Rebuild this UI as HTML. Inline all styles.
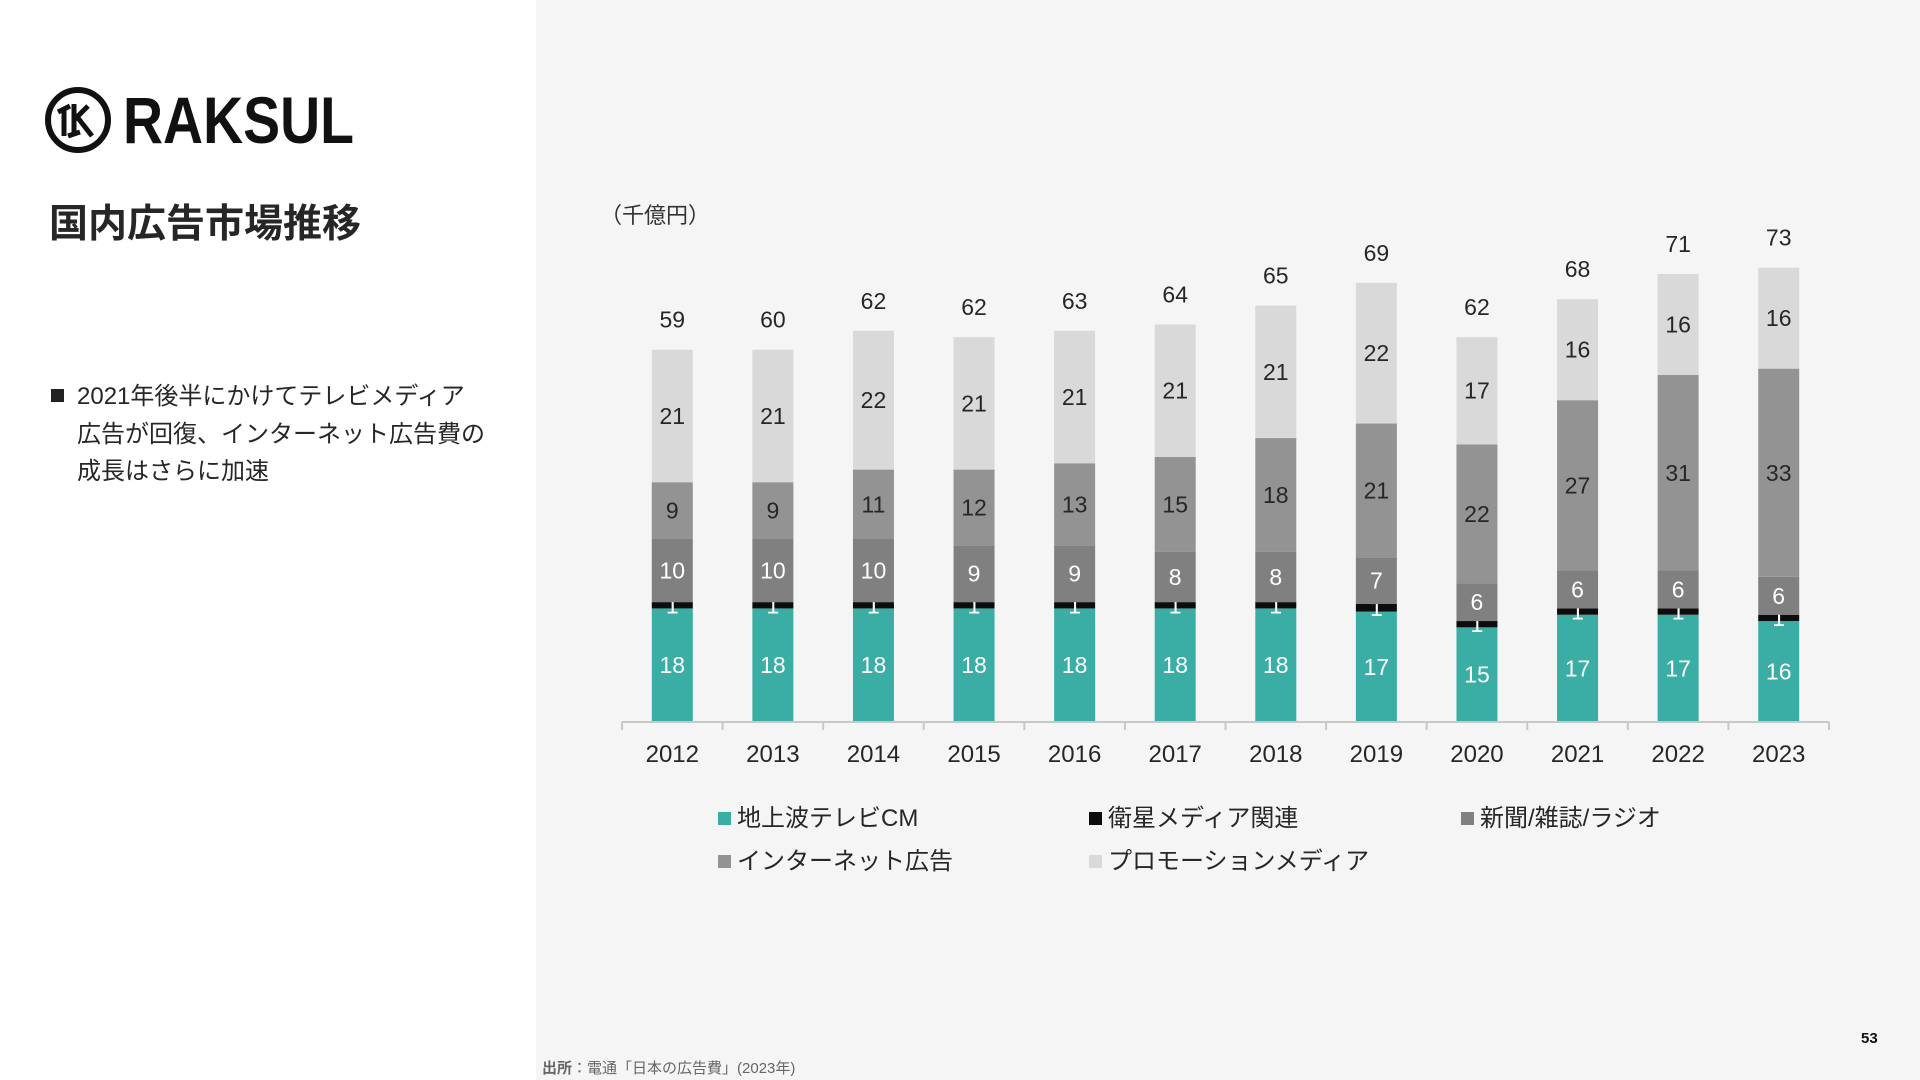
<!DOCTYPE html>
<html><head><meta charset="utf-8">
<style>
*{margin:0;padding:0;box-sizing:border-box}
body{width:1920px;height:1080px;overflow:hidden;background:#f5f5f5;font-family:"Liberation Sans","Noto Sans CJK JP",sans-serif;position:relative}
#left{position:absolute;left:0;top:0;width:536px;height:1080px;background:#fff}
.abs{position:absolute}
</style></head><body>
<div id="left"></div>
<svg class="abs" style="left:44px;top:86px" width="68" height="68" viewBox="0 0 68 68">
<circle cx="34" cy="34" r="30" fill="none" stroke="#111" stroke-width="6"/>
<path d="M20 22 L20 50 M14 26 L26 20 M30 18 L30 48 M30 34 L44 20 M34 32 L48 50 M24 50 L36 46" stroke="#111" stroke-width="5" fill="none"/>
</svg>
<div class="abs" style="left:123px;top:82px;font-size:66px;font-weight:bold;color:#111;transform:scaleX(0.84);transform-origin:left top">RAKSUL</div>
<div class="abs" style="left:49px;top:193px;font-size:39px;font-weight:bold;color:#262626">国内広告市場推移</div>
<div class="abs" style="left:51px;top:389px;width:13px;height:13px;background:#222"></div>
<div class="abs" style="left:77px;top:378px;font-size:24px;line-height:37.5px;color:#262626">2021年後半にかけてテレビメディア<br>広告が回復、インターネット広告費の<br>成長はさらに加速</div>
<div class="abs" style="left:600px;top:198px;font-size:22px;color:#333">（千億円）</div>
<div class="abs" style="left:542px;top:1057px;font-size:15px;color:#666"><b>出所</b>：電通「日本の広告費」(2023年)</div>
<div class="abs" style="left:1861px;top:1030px;font-size:15px;font-weight:bold;color:#111">53</div>
<svg id="chart" class="abs" style="left:0;top:0" width="1920" height="1080"></svg>
<script>
const years=["2012","2013","2014","2015","2016","2017","2018","2019","2020","2021","2022","2023"];
const tvCM=[18,18,18,18,18,18,18,17.5,15,17,17,16];
const satellite=[1,1,1,1,1,1,1,1.2,1,1,1,1];
const newspaper=[10,10,10,9,9,8,8,7.4,6,6,6,6];
const internet=[9,9,11,12,13,15,18,21.2,22,27,31,33];
const promo=[21,21,22,21,21,21,21,22.3,17,16,16,16];
const tvCMLbl=[18,18,18,18,18,18,18,17,15,17,17,16];
const satLbl=[1,1,1,1,1,1,1,1,1,1,1,1];
const newsLbl=[10,10,10,9,9,8,8,7,6,6,6,6];
const inetLbl=[9,9,11,12,13,15,18,21,22,27,31,33];
const promoLbl=[21,21,22,21,21,21,21,22,17,16,16,16];
const totals=[59,60,62,62,63,64,65,69,62,68,71,73];
const seriesNames=["地上波テレビCM","衛星メディア関連","新聞/雑誌/ラジオ","インターネット広告","プロモーションメディア"];

const svg=document.getElementById('chart');
const NS='http://www.w3.org/2000/svg';
const x0=622,x1=1829,baseY=722,unit=6.31,bw=41;
const step=(x1-x0)/years.length;
const xC=i=>x0+step*(i+0.5);
const yS=v=>baseY-v*unit;
const series=[
 {v:tvCM,l:tvCMLbl,c:'#3aada5',t:'#fff',n:'tv-cm'},
 {v:satellite,l:satLbl,c:'#0d0d0d',t:'#fff',n:'satellite'},
 {v:newspaper,l:newsLbl,c:'#808080',t:'#fff',n:'newspaper'},
 {v:internet,l:inetLbl,c:'#939393',t:'#262626',n:'internet'},
 {v:promo,l:promoLbl,c:'#d9d9d9',t:'#262626',n:'promotion'}];
function mk(tag,a){const e=document.createElementNS(NS,tag);for(const k in a)e.setAttribute(k,a[k]);svg.appendChild(e);return e;}
years.forEach((yr,i)=>{
 let cum=0;
 series.forEach(s=>{
  const v=s.v[i];
  const r=mk('rect',{x:xC(i)-bw/2,y:yS(cum+v),width:bw,height:v*unit,fill:s.c});
  
  
  const t=mk('text',{x:xC(i),y:yS(cum+v/2)+8,'text-anchor':'middle','font-size':23,fill:s.t});
  t.textContent=s.l[i];
  
  
  cum+=v;
 });
 const tt=mk('text',{x:xC(i),y:yS(cum)-22,'text-anchor':'middle','font-size':23,fill:'#262626'});
 tt.textContent=totals[i];
 
 
 const yl=mk('text',{x:xC(i),y:762,'text-anchor':'middle','font-size':24,fill:'#262626'});
 yl.textContent=yr;
 
 
});
const ax=mk('line',{x1:x0,y1:baseY,x2:x1,y2:baseY,stroke:'#c8c8c8','stroke-width':2});


for(let i=0;i<=years.length;i++){
 const tk=mk('line',{x1:x0+step*i,y1:baseY,x2:x0+step*i,y2:baseY+8,stroke:'#c8c8c8','stroke-width':2});
 
 
}
const legPos=[[718,818],[1089,818],[1461,818],[718,861],[1089,861]];
seriesNames.forEach((nm,k)=>{
 const [lx,ly]=legPos[k];
 const sq=mk('rect',{x:lx,y:ly-6,width:13,height:13,fill:series[k].c});
 
 
 const lt=mk('text',{x:lx+19,y:ly+8,'font-size':24,fill:'#262626'});
 lt.textContent=nm;
 
 
});
</script>
</body></html>
